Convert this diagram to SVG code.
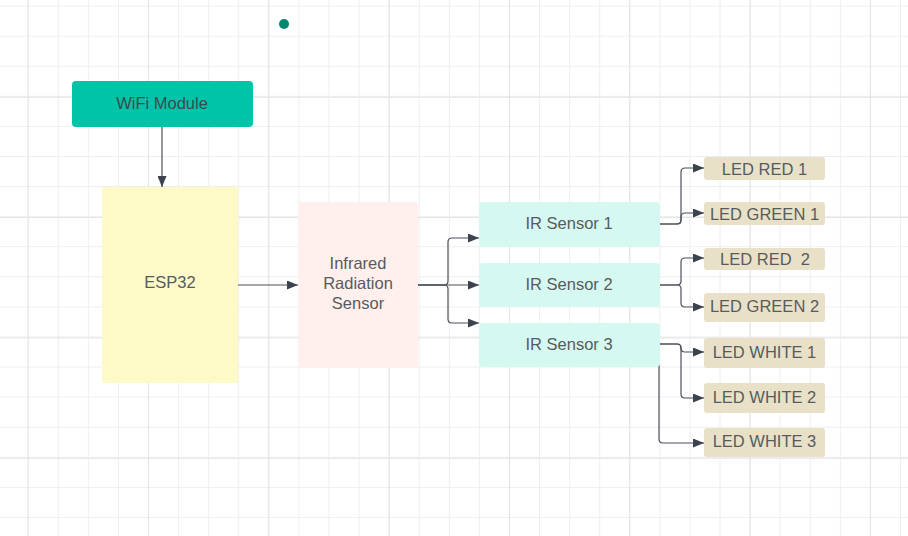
<svg xmlns="http://www.w3.org/2000/svg" width="908" height="536" viewBox="0 0 908 536">
<style>
  .lbl{font-family:"Liberation Sans",Arial,sans-serif;font-size:16.5px;fill:#585b5e;text-anchor:middle;dominant-baseline:central;white-space:pre}
  .wifi{fill:#3a4b4f}
  .conn{fill:none;stroke:#4b5058;stroke-width:1.2}
  .led{fill:#e8e1c8}
  .ir{fill:#d5f8f1}
</style>
<defs>
  <pattern id="minor" patternUnits="userSpaceOnUse" x="27.7" y="5.6" width="30.08" height="30.08">
    <path d="M0.5,0 V30.08 M0,0.5 H30.08" stroke="#eeeeee" stroke-width="1" fill="none"/>
  </pattern>
  <pattern id="major" patternUnits="userSpaceOnUse" x="148" y="96.8" width="120.32" height="120.32">
    <path d="M0.5,0 V120.32 M0,0.5 H120.32" stroke="#e3e3e3" stroke-width="1" fill="none"/>
  </pattern>
  <marker id="arr" markerUnits="userSpaceOnUse" markerWidth="11" markerHeight="9" refX="11" refY="4.5" orient="auto">
    <path d="M0,0 L11,4.5 L0,9 z" fill="#3d434c"/>
  </marker>
</defs>
<rect width="908" height="536" fill="#ffffff"/>
<rect width="908" height="536" fill="url(#minor)"/>
<rect width="908" height="536" fill="url(#major)"/>

<circle cx="284" cy="24" r="5" fill="#00876f"/>

<g id="connectors">
  <path class="conn" marker-end="url(#arr)" d="M162,127 V187"/>
  <path class="conn" marker-end="url(#arr)" d="M238,285 H298"/>
  <path class="conn" marker-end="url(#arr)" d="M418,285 H444 Q448,285 448,281 V242 Q448,238 452,238 H479"/>
  <path class="conn" marker-end="url(#arr)" d="M418,285 H479"/>
  <path class="conn" marker-end="url(#arr)" d="M418,285 H444 Q448,285 448,289 V319 Q448,323 452,323 H479"/>
  <path class="conn" marker-end="url(#arr)" d="M659,224 H677 Q681,224 681,220 V172 Q681,168 685,168 H704"/>
  <path class="conn" marker-end="url(#arr)" d="M659,224 H677 Q681,224 681,220 V217 Q681,213 685,213 H704"/>
  <path class="conn" marker-end="url(#arr)" d="M659,285 H677 Q681,285 681,281 V262 Q681,258 685,258 H704"/>
  <path class="conn" marker-end="url(#arr)" d="M659,285 H677 Q681,285 681,289 V303 Q681,307 685,307 H704"/>
  <path class="conn" marker-end="url(#arr)" d="M659,344 H677 Q681,344 681,348 Q681,352 685,352 H704"/>
  <path class="conn" marker-end="url(#arr)" d="M659,344 H677 Q681,344 681,348 V394 Q681,398 685,398 H704"/>
  <path class="conn" marker-end="url(#arr)" d="M659,344 V439 Q659,443 663,443 H704"/>
</g>

<g id="wifi-module">
  <rect x="72" y="81" width="181" height="46" rx="4" fill="#00c4a7"/>
  <text class="lbl wifi" x="162" y="103">WiFi Module</text>
</g>
<g id="esp32">
  <rect x="102" y="187" width="136" height="196" fill="#fdfac8"/>
  <text class="lbl" x="170" y="282">ESP32</text>
</g>
<g id="infrared-sensor">
  <rect x="298" y="202" width="120" height="166" rx="3" fill="#fff0ee"/>
  <text class="lbl" x="358" y="263">Infrared</text>
  <text class="lbl" x="358" y="283">Radiation</text>
  <text class="lbl" x="358" y="303">Sensor</text>
</g>
<g id="ir-sensor-1">
  <rect class="ir" x="479" y="202" width="181" height="45" rx="4"/>
  <text class="lbl" x="569" y="223">IR Sensor 1</text>
</g>
<g id="ir-sensor-2">
  <rect class="ir" x="479" y="263" width="181" height="44" rx="4"/>
  <text class="lbl" x="569" y="284">IR Sensor 2</text>
</g>
<g id="ir-sensor-3">
  <rect class="ir" x="479" y="323" width="181" height="44" rx="4"/>
  <text class="lbl" x="569" y="344">IR Sensor 3</text>
</g>
<g id="led-red-1">
  <rect class="led" x="704" y="157" width="121" height="23" rx="3"/>
  <text class="lbl" x="764.5" y="169">LED RED 1</text>
</g>
<g id="led-green-1">
  <rect class="led" x="704" y="202" width="121" height="23" rx="3"/>
  <text class="lbl" x="764.5" y="214">LED GREEN 1</text>
</g>
<g id="led-red-2">
  <rect class="led" x="704" y="248" width="121" height="22" rx="3"/>
  <text class="lbl" x="765" y="259">LED RED  2</text>
</g>
<g id="led-green-2">
  <rect class="led" x="704" y="293" width="121" height="29" rx="3"/>
  <text class="lbl" x="764.5" y="306">LED GREEN 2</text>
</g>
<g id="led-white-1">
  <rect class="led" x="704" y="338" width="121" height="30" rx="3"/>
  <text class="lbl" x="764.5" y="352">LED WHITE 1</text>
</g>
<g id="led-white-2">
  <rect class="led" x="704" y="383" width="121" height="30" rx="3"/>
  <text class="lbl" x="764.5" y="397">LED WHITE 2</text>
</g>
<g id="led-white-3">
  <rect class="led" x="704" y="428" width="121" height="29" rx="3"/>
  <text class="lbl" x="764.5" y="441">LED WHITE 3</text>
</g>
</svg>
